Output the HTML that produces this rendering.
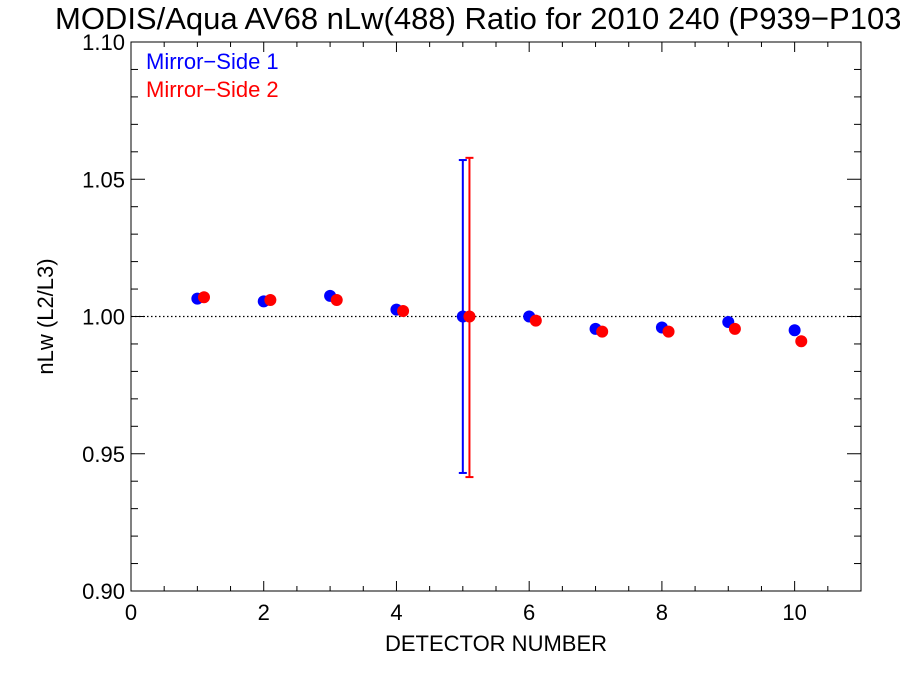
<!DOCTYPE html>
<html><head><meta charset="utf-8"><style>
html,body{margin:0;padding:0;background:#fff;overflow:hidden;}
svg{display:block;font-family:"Liberation Sans",sans-serif;}
</style></head><body>
<svg id="chart" width="900" height="675" viewBox="0 0 900 675"></svg>
<script>
const detectors=[1,2,3,4,5,6,7,8,9,10];
const ms1Values=[1.0065,1.0055,1.0075,1.0025,1.000,1.000,0.9955,0.996,0.998,0.995];
const ms2Values=[1.007,1.006,1.006,1.002,1.000,0.9985,0.9945,0.9945,0.9955,0.991];
const ms2Offset=0.1;
const errDetector=5;
const ms1ErrLow=0.943, ms1ErrHigh=1.057;
const ms2ErrLow=0.9415, ms2ErrHigh=1.0578;
const xTickLabels=["0","2","4","6","8","10"];
const yTickLabels=["0.90","0.95","1.00","1.05","1.10"];

const X0=131,X1=861,Y0=42,Y1=591;
const xMin=0,xMax=11,yMin=0.90,yMax=1.10;
const sx=v=>X0+(v-xMin)/(xMax-xMin)*(X1-X0);
const sy=v=>Y1-(v-yMin)/(yMax-yMin)*(Y1-Y0);
const svg=document.getElementById('chart');
const NS='http://www.w3.org/2000/svg';
function mk(tag,attrs,parent){const e=document.createElementNS(NS,tag);for(const k in attrs)e.setAttribute(k,attrs[k]);(parent||svg).appendChild(e);return e;}
function txt(s,attrs){const e=mk('text',attrs);e.textContent=s;return e;}

let t=txt("MODIS/Aqua AV68 nLw(488) Ratio for 2010 240 (P939\u2212P1037)",{x:55,y:29,'font-size':31,fill:'#000'});



let frame=mk('rect',{x:X0,y:Y0,width:X1-X0,height:Y1-Y0,fill:'none',stroke:'#000','stroke-width':1});



for(let v=0;v<=11.001;v+=0.5){
  const major=Math.abs(v/2-Math.round(v/2))<1e-6;
  const len=major?10:5;const x=sx(v);
  let a=mk('line',{x1:x,y1:Y1,x2:x,y2:Y1-len,stroke:'#000'});
  
  
  let b=mk('line',{x1:x,y1:Y0,x2:x,y2:Y0+len,stroke:'#000'});
  
  
}
xTickLabels.forEach(s=>{
  let e=txt(s,{x:sx(parseFloat(s)),y:Y1+29,'font-size':22,'text-anchor':'middle'});
  
  
});
for(let i=0;i<=20;i++){
  const v=yMin+i*0.01;const major=i%5===0;const len=major?14:7;const y=sy(v);
  let a=mk('line',{x1:X0,y1:y,x2:X0+len,y2:y,stroke:'#000'});
  
  
  let b=mk('line',{x1:X1,y1:y,x2:X1-len,y2:y,stroke:'#000'});
  
  
}
yTickLabels.forEach(s=>{
  let e=txt(s,{x:X0-6,y:sy(parseFloat(s))+8,'font-size':22,'text-anchor':'end'});
  
  
});
let xt=txt("DETECTOR NUMBER",{x:(X0+X1)/2,y:651,'font-size':22,'text-anchor':'middle'});


let yt=txt("nLw (L2/L3)",{x:0,y:0,'font-size':22,'text-anchor':'middle',transform:`translate(53,${(Y0+Y1)/2}) rotate(-90)`});



let ref=mk('line',{x1:X0,y1:sy(1),x2:X1,y2:sy(1),stroke:'#000','stroke-dasharray':'1.5,2.5','stroke-width':1.3});



function errbar(xv,lo,hi,color,name){
  const x=sx(xv);
  let g=mk('g',{stroke:color,'stroke-width':2});
  
  
  mk('line',{x1:x,y1:sy(lo),x2:x,y2:sy(hi)},g);
  mk('line',{x1:x-4,y1:sy(lo),x2:x+4,y2:sy(lo)},g);
  mk('line',{x1:x-4,y1:sy(hi),x2:x+4,y2:sy(hi)},g);
}
errbar(errDetector,ms1ErrLow,ms1ErrHigh,'#0000ff','error-bar-ms1');
errbar(errDetector+ms2Offset,ms2ErrLow,ms2ErrHigh,'#ff0000','error-bar-ms2');

detectors.forEach((d,i)=>{
  let c=mk('circle',{cx:sx(d),cy:sy(ms1Values[i]),r:6,fill:'#0000ff'});
  
  
});
detectors.forEach((d,i)=>{
  let c=mk('circle',{cx:sx(d+ms2Offset),cy:sy(ms2Values[i]),r:6,fill:'#ff0000'});
  
  
});

let l1=txt("Mirror\u2212Side 1",{x:146,y:69,'font-size':22,fill:'#0000ff'});


let l2=txt("Mirror\u2212Side 2",{x:146,y:97,'font-size':22,fill:'#ff0000'});


</script>
</body></html>
